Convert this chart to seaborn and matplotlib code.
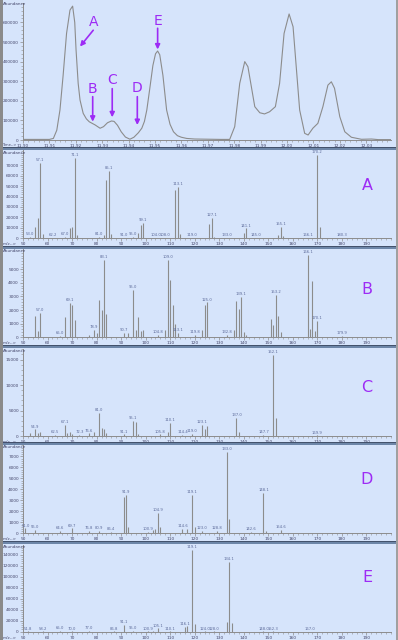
import matplotlib
matplotlib.use("Agg")
import matplotlib.pyplot as plt
from matplotlib.ticker import FixedLocator, MultipleLocator, FuncFormatter
from matplotlib.patches import Rectangle
import pandas as pd
import seaborn as sns

# total ion chromatogram (time in min, abundance)
chrom_time = [11.900, 11.905, 11.910, 11.9115, 11.9128, 11.9140, 11.9152, 11.9165, 11.9178, 11.9188,
              11.9196, 11.9201, 11.9209, 11.9216, 11.9228, 11.9240, 11.9251, 11.9262, 11.9273, 11.9283,
              11.9292, 11.9305, 11.9320, 11.9335, 11.9345, 11.9358, 11.9372, 11.9388, 11.9405, 11.9420,
              11.9437, 11.9450, 11.9460, 11.9469, 11.9480, 11.9492, 11.9502, 11.9510, 11.9518, 11.9530,
              11.9544, 11.9557, 11.9570, 11.9585, 11.9600, 11.9620, 11.9650, 11.9700, 11.9750, 11.9783,
              11.9802, 11.9821, 11.9840, 11.9852, 11.9865, 11.9878, 11.9897, 11.9915, 11.9934, 11.9956,
              11.9972, 11.9989, 12.0008, 12.0023, 12.0035, 12.0048, 12.0067, 12.0080, 12.0098, 12.0117,
              12.0136, 12.0155, 12.0168, 12.0180, 12.0200, 12.0219, 12.0244, 12.0282, 12.0320, 12.0345,
              12.0394]
chrom_abund = [3000, 3000, 3000, 8000, 50000, 153000, 330000, 544000, 663000, 683000,
               600000, 459000, 289000, 204000, 136000, 108000, 93000, 85000, 77000, 68000,
               60000, 68000, 88000, 97000, 95000, 75000, 42000, 15000, 4000, 14000,
               37000, 60000, 95000, 153000, 260000, 380000, 440000, 454000, 435000, 330000,
               153000, 80000, 42000, 22000, 14000, 8000, 5000, 4000, 3000, 3000,
               68000, 289000, 400000, 374000, 272000, 170000, 139000, 133000, 144000, 170000,
               289000, 544000, 643000, 578000, 374000, 153000, 34000, 25500, 60000, 85000,
               170000, 280000, 297000, 264000, 119000, 42000, 14000, 3600, 5000, 2000,
               2000]
chrom_ticks = [11.90, 11.91, 11.92, 11.93, 11.94, 11.95, 11.96, 11.97, 11.98, 11.99,
               12.00, 12.01, 12.02, 12.03]
chrom_yticks = [0, 100000, 200000, 300000, 400000, 500000, 600000]

# mass spectra: m/z and abundance of each line, plus labelled peaks
mz_a = [53, 55, 56, 57, 58, 62, 67, 69, 70, 71, 72, 81, 83, 84, 85, 86, 91, 95, 97, 98, 99,
        104, 108, 112, 113, 114, 119, 126, 127, 128, 133, 140, 141, 145, 154, 155, 156, 166,
        170, 171, 180]
ab_a = [1000, 11000, 19000, 72000, 4000, 500, 1500, 9500, 11000, 77000, 3000, 1200, 3000,
        55800, 64400, 4000, 600, 1000, 5000, 12700, 15000, 500, 500, 46200, 49400, 4000, 600,
        13700, 19700, 1500, 500, 5400, 9500, 500, 3000, 10500, 2000, 400, 80000, 11000, 300]
lab_a_mz = [53, 57, 62, 67, 71, 81, 85, 91, 95, 99, 104, 108, 113, 119, 127, 133, 141, 145,
            155, 166, 170, 180]
lab_a_txt = ["53.0", "57.1", "62.2", "67.0", "71.1", "81.0", "85.1", "91.0", "95.0", "99.1",
             "104.0", "108.0", "113.1", "119.0", "127.1", "133.0", "141.1", "145.0", "155.1",
             "166.1", "170.2", "180.3"]
yticks_a = [0, 10000, 20000, 30000, 40000, 50000, 60000, 70000]

mz_b = [55, 56, 57, 65, 67, 69, 70, 71, 77, 79, 80, 81, 82, 83, 84, 91, 93, 95, 96, 97, 98,
        99, 105, 108, 109, 110, 111, 112, 113, 120, 123, 124, 125, 133, 136, 137, 138, 139,
        140, 141, 151, 152, 153, 154, 155, 166, 167, 168, 169, 170, 180]
ab_b = [1590, 490, 1790, 100, 1490, 2520, 2400, 1250, 200, 560, 300, 2720, 1980, 5700, 1710,
        300, 320, 3500, 510, 1490, 440, 560, 150, 560, 5680, 4240, 2400, 980, 320, 150, 500,
        2350, 2570, 150, 500, 2650, 2080, 2960, 400, 200, 1350, 880, 3130, 1590, 400, 6050,
        630, 4160, 490, 1180, 100]
lab_b_mz = [57, 65, 69, 79, 83, 91, 95, 105, 109, 113, 120, 125, 133, 139, 153, 166, 170, 180]
lab_b_txt = ["57.0", "65.0", "69.1", "78.9", "83.1", "90.7", "95.0", "104.8", "109.0", "113.1",
             "119.8", "125.0", "132.8", "139.1", "153.2", "166.1", "170.1", "179.9"]
yticks_b = [0, 1000, 2000, 3000, 4000, 5000]

mz_c = [53, 55, 56, 57, 63, 67, 68, 69, 70, 73, 77, 79, 81, 82, 83, 84, 91, 95, 96, 97, 106,
        109, 110, 115, 119, 123, 124, 125, 137, 138, 148, 152, 153, 170]
ab_c = [600, 1300, 500, 800, 200, 2160, 600, 700, 400, 200, 500, 800, 4570, 1630, 1300, 650,
        300, 3000, 2680, 400, 300, 800, 2610, 200, 400, 2150, 1300, 2000, 3600, 850, 150,
        15900, 3470, 100]
lab_c_mz = [55, 63, 67, 73, 77, 81, 91, 95, 106, 110, 115, 119, 123, 137, 148, 152, 170]
lab_c_txt = ["54.9", "62.5", "67.1", "72.3", "76.6", "81.0", "91.1", "95.1", "105.8", "110.1",
             "114.4", "119.0", "123.1", "137.0", "147.7", "152.1", "169.9"]
yticks_c = [0, 5000, 10000, 15000]

mz_d = [51, 55, 65, 70, 77, 81, 86, 91, 92, 93, 101, 103, 104, 105, 106, 115, 117, 119, 120,
        123, 129, 133, 134, 143, 148, 149, 155]
ab_d = [450, 300, 200, 450, 200, 200, 100, 3330, 3480, 600, 100, 300, 400, 1820, 600, 400,
        400, 3480, 600, 200, 200, 7390, 1270, 100, 3640, 200, 300]
lab_d_mz = [51, 55, 65, 70, 77, 81, 86, 92, 101, 105, 115, 119, 123, 129, 133, 143, 148, 155]
lab_d_txt = ["51.0", "55.0", "64.6", "69.7", "76.8", "80.9", "86.4", "91.9", "100.9", "104.9",
             "114.6", "119.1", "123.0", "128.8", "133.0", "142.6", "148.1", "154.6"]
yticks_d = [0, 1000, 2000, 3000, 4000, 5000, 6000, 7000]

mz_e = [52, 58, 65, 70, 77, 87, 91, 95, 101, 103, 105, 110, 116, 117, 119, 120, 124, 128, 133,
        134, 135, 148, 152, 167]
ab_e = [500, 500, 1000, 500, 1500, 500, 12000, 1000, 500, 2000, 6000, 500, 9000, 10000,
        148500, 14000, 500, 500, 18000, 126700, 15000, 500, 500, 300]
lab_e_mz = [52, 58, 65, 70, 77, 87, 91, 95, 101, 105, 110, 116, 119, 124, 128, 134, 148, 152, 167]
lab_e_txt = ["51.8", "58.2", "65.0", "70.0", "77.0", "86.8", "91.1", "95.0", "100.9", "105.1",
             "110.1", "116.1", "119.1", "124.0", "128.0", "134.1", "148.0", "152.3", "167.0"]
yticks_e = [0, 20000, 40000, 60000, 80000, 100000, 120000, 140000]

mz_ticks = [50, 60, 70, 80, 90, 100, 110, 120, 130, 140, 150, 160, 170, 180, 190]

BG = "#d6e4fb"
LINE = "#8c8c8c"
TICK_TXT = "#44466a"
PEAK_TXT = "#5a6898"
PURPLE = "#9d2bf5"

sns.set_theme(style="white")
plt.rcParams['font.family'] = ['DejaVu Sans']

W, H = 398, 640
fig = plt.figure(figsize=(W / 100, H / 100), dpi=100)
fig.patch.set_facecolor(BG)


def px_axes(x0, y_top, x1, y_bot):
    return fig.add_axes([x0 / W, 1 - y_bot / H, (x1 - x0) / W, (y_bot - y_top) / H])


def style_axes(ax):
    ax.set_facecolor(BG)
    for s in ["top", "right"]:
        ax.spines[s].set_visible(False)
    for s in ["left", "bottom"]:
        ax.spines[s].set_color(LINE)
        ax.spines[s].set_linewidth(0.7)
    ax.tick_params(axis="both", which="major", labelsize=3.1, labelcolor=TICK_TXT,
                   color=LINE, length=2, width=0.5, pad=1, direction="out",
                   bottom=True, left=True)
    ax.tick_params(axis="both", which="minor", color=LINE, length=1.2, width=0.4,
                   direction="out", bottom=True, left=True)
    ax.set_xlabel("")
    ax.set_ylabel("")


int_fmt = FuncFormatter(lambda v, p: f"{int(round(v))}")

# chromatogram
ax0 = px_axes(23, 2.8, 391, 140)
chrom = pd.DataFrame({"time": chrom_time, "abund": chrom_abund})
sns.lineplot(data=chrom, x="time", y="abund", ax=ax0, color=LINE, linewidth=0.8,
             estimator=None, legend=False)
ax0.set_xlim(11.90, 12.0394)
ax0.set_ylim(0, 700000)
ax0.xaxis.set_major_locator(FixedLocator(chrom_ticks))
ax0.xaxis.set_major_formatter(FuncFormatter(lambda v, p: f"{v:.2f}"))
ax0.xaxis.set_minor_locator(MultipleLocator(0.002))
ax0.yaxis.set_major_locator(FixedLocator(chrom_yticks))
ax0.yaxis.set_major_formatter(int_fmt)
ax0.yaxis.set_minor_locator(MultipleLocator(20000))
style_axes(ax0)
fig.text(2.5 / W, 1 - 4 / H, "Abundance", fontsize=3.0, color=TICK_TXT, va="center")
fig.text(2 / W, 1 - 145 / H, "Time-->", fontsize=2.6, color=TICK_TXT, va="center")

arrows = [("A", (11.9268, 603000), (11.9266, 560000), (11.9216, 477000)),
          ("B", (11.9264, 258000), (11.9264, 221000), (11.9264, 93500)),
          ("C", (11.9338, 306000), (11.9338, 262000), (11.9338, 116000)),
          ("D", (11.9433, 263000), (11.9433, 221000), (11.9433, 76500)),
          ("E", (11.9510, 609000), (11.9510, 570000), (11.9510, 462000))]
for letter, txt_xy, tail, head in arrows:
    ax0.annotate("", xy=head, xytext=tail,
                 arrowprops=dict(arrowstyle="-|>", color=PURPLE, lw=1.2,
                                 mutation_scale=7, shrinkA=0, shrinkB=0))
    ax0.text(txt_xy[0], txt_xy[1], letter, color=PURPLE, fontsize=10,
             ha="center", va="center")

# mass spectra panels
panels = [
    ("A", mz_a, ab_a, lab_a_mz, lab_a_txt, yticks_a, 150, 238.3, 84500, 2000, 185),
    ("B", mz_b, ab_b, lab_b_mz, lab_b_txt, yticks_b, 249, 337.3, 6490, 200, 290),
    ("C", mz_c, ab_c, lab_c_mz, lab_c_txt, yticks_c, 349, 436.0, 17060, 1000, 388),
    ("D", mz_d, ab_d, lab_d_mz, lab_d_txt, yticks_d, 445, 533.3, 8030, 200, 480),
    ("E", mz_e, ab_e, lab_e_mz, lab_e_txt, yticks_e, 545, 631.7, 157600, 4000, 578),
]
for letter, mz, ab, lab_mz, lab_txt, yticks, y_top, y_zero, ymax, yminor, letter_y in panels:
    ax = px_axes(23, y_top, 391, y_zero)
    ax.vlines(mz, 0, ab, colors=LINE, linewidth=0.8)
    heights = dict(zip(mz, ab))
    for m, t in zip(lab_mz, lab_txt):
        ax.annotate(t, (m, heights[m]), xytext=(0, 0.6), textcoords="offset points",
                    ha="center", va="bottom", fontsize=2.7, color=PEAK_TXT)
    ax.set_xlim(50, 200)
    ax.set_ylim(0, ymax)
    ax.xaxis.set_major_locator(FixedLocator(mz_ticks))
    ax.xaxis.set_minor_locator(MultipleLocator(2))
    ax.yaxis.set_major_locator(FixedLocator(yticks))
    ax.yaxis.set_minor_locator(MultipleLocator(yminor))
    ax.yaxis.set_major_formatter(int_fmt)
    style_axes(ax)
    fig.text(2.5 / W, 1 - (y_top + 2.5) / H, "Abundance", fontsize=3.0, color=TICK_TXT,
             va="center")
    fig.text(2.5 / W, 1 - (y_zero + 6) / H, "m/z-->", fontsize=3.0, color=TICK_TXT,
             va="center")
    fig.text(367 / W, 1 - letter_y / H, letter, fontsize=11.5, color=PURPLE,
             ha="center", va="center")

# separator bars between panels
for y in [146.5, 245.5, 345.0, 441.5, 540.5]:
    fig.add_artist(Rectangle((0, 1 - (y + 3) / H), 1, 3 / H, transform=fig.transFigure,
                             facecolor="#6d86a8", edgecolor="none"))
    fig.add_artist(Rectangle((0, 1 - (y + 1) / H), 1, 1 / H, transform=fig.transFigure,
                             facecolor="#43526c", edgecolor="none"))

# window frame
fig.add_artist(Rectangle((0, 0), 2.5 / W, 1, transform=fig.transFigure,
                         facecolor="#8a8a8a", edgecolor="none"))
fig.add_artist(Rectangle((1 - 2 / W, 0), 2 / W, 1, transform=fig.transFigure,
                         facecolor="#a0a0a0", edgecolor="none"))

fig.savefig("out.png", dpi=100, facecolor=BG)
